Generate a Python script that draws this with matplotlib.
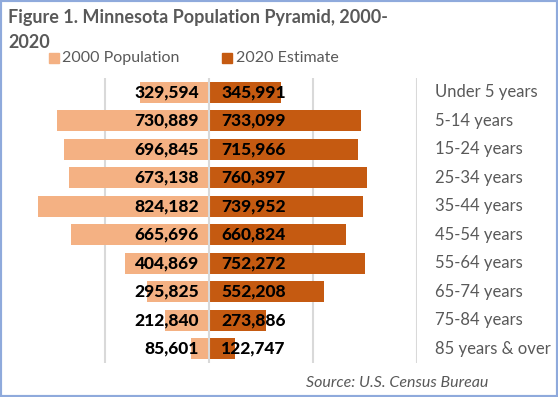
import matplotlib
matplotlib.use("Agg")
import matplotlib.pyplot as plt
from matplotlib.patches import Rectangle

# %% data
groups = ["Under 5 years", "5-14 years", "15-24 years", "25-34 years", "35-44 years",
          "45-54 years", "55-64 years", "65-74 years", "75-84 years", "85 years & over"]
pop_2000 = [329594, 730889, 696845, 673138, 824182, 665696, 404869, 295825, 212840, 85601]
pop_2020 = [345991, 733099, 715966, 760397, 739952, 660824, 752272, 552208, 273886, 122747]

c2000 = "#F4B183"
c2020 = "#C55A11"
grey = "#595959"

plt.rcParams["font.family"] = ["Lato", "DejaVu Sans"]

# %% figure
fig = plt.figure(figsize=(5.58, 3.97), dpi=100)
ax = fig.add_axes([1 / 558, 1 - 363 / 397, 416 / 558, 285 / 397])

y = list(range(len(groups)))
ax.barh(y, [-v for v in pop_2000], height=0.74, color=c2000, zorder=2)
ax.barh(y, pop_2020, height=0.74, color=c2020, zorder=2)

for i in y:
    ax.annotate(f"{pop_2000[i]:,}", xy=(0, i), xytext=(-10, 0), textcoords="offset pixels",
                ha="right", va="center", fontsize=12.5, fontweight="black", color="black", zorder=3)
    ax.annotate(f"{pop_2020[i]:,}", xy=(0, i), xytext=(12, 0), textcoords="offset pixels",
                ha="left", va="center", fontsize=12.5, fontweight="black", color="black", zorder=3)
    ax.annotate(groups[i], xy=(1, i), xycoords=("axes fraction", "data"), xytext=(18, 0),
                textcoords="offset pixels", ha="left", va="center", fontsize=12, color=grey)

ax.set_xlim(-1000000, 1000000)
ax.set_ylim(len(groups) - 0.5, -0.5)
for gx in [-500000, 0, 500000, 1000000]:
    ax.axvline(gx, color="#D9D9D9", lw=1.5, zorder=1 if gx else 2.5)
ax.set_xticks([])
ax.set_yticks([])
for s in ax.spines.values():
    s.set_visible(False)
ax.patch.set_alpha(0)

# %% title, legend, source
fig.text(8 / 558, 1 - 9 / 397, "Figure 1. Minnesota Population Pyramid, 2000-\n2020",
         ha="left", va="top", fontsize=13, fontweight="bold", color=grey, linespacing=1.6)
fig.patches.append(Rectangle((49 / 558, 1 - 63 / 397), 10 / 558, 10 / 397,
                             transform=fig.transFigure, color=c2000))
fig.text(62 / 558, 1 - 58 / 397, "2000 Population", ha="left", va="center", fontsize=11.5, color=grey)
fig.patches.append(Rectangle((222 / 558, 1 - 63 / 397), 10 / 558, 10 / 397,
                             transform=fig.transFigure, color=c2020))
fig.text(236 / 558, 1 - 58 / 397, "2020 Estimate", ha="left", va="center", fontsize=11.5, color=grey)
fig.text(306 / 558, 1 - 383 / 397, "Source: U.S. Census Bureau", ha="left", va="center",
         fontsize=11.5, style="italic", color=grey)

fig.patches.append(Rectangle((0, 0), 1, 1, transform=fig.transFigure, fill=False,
                             edgecolor="#8FAADC", lw=3))

fig.savefig("out.png", dpi=100)
